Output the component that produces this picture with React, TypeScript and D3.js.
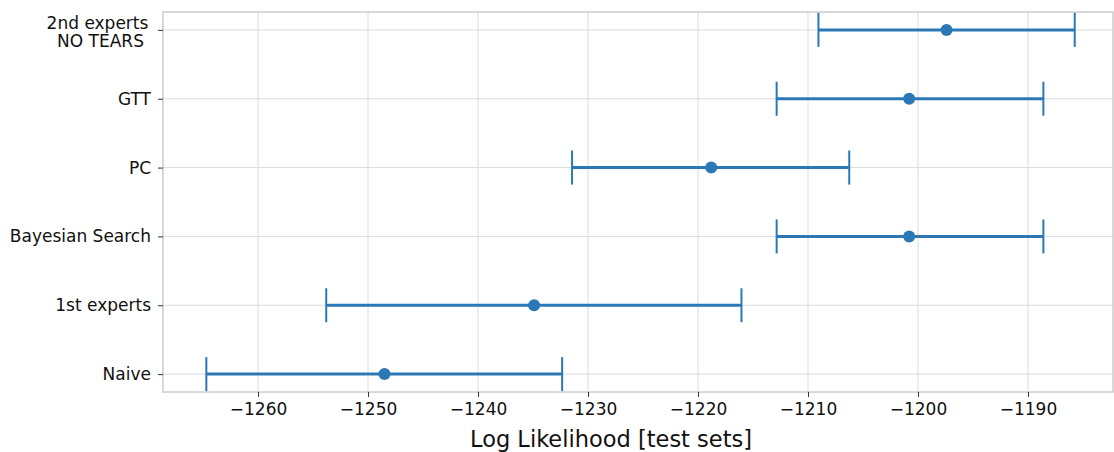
import { useEffect, useRef } from 'react';
import * as d3 from 'd3';

// Datos (de abajo hacia arriba)
const methods = ['Naive', '1st experts', 'Bayesian Search', 'PC', 'GTT', '2nd experts\nNO TEARS'];
const means = [-1248.5, -1234.9, -1200.8, -1218.8, -1200.8, -1197.4];
const lows = [-1264.7, -1253.8, -1212.85, -1231.45, -1212.85, -1209.05];
const highs = [-1232.35, -1216.05, -1188.6, -1206.25, -1188.6, -1185.75];
const xTicks = [-1260, -1250, -1240, -1230, -1220, -1210, -1200, -1190];

const W = 1114;
const H = 452;
const margin = { top: 12, right: 1, bottom: 60, left: 163 };
const BLUE = '#2a78b6';
const FONT = '"DejaVu Sans", sans-serif';

const App = () => {
  const svgRef = useRef<SVGSVGElement>(null);

  useEffect(() => {
    if (!svgRef.current) return;
    const svg = d3.select(svgRef.current);
    svg.selectAll('*').remove();

    const innerW = W - margin.left - margin.right;
    const innerH = H - margin.top - margin.bottom;

    const x = d3.scaleLinear().domain([-1268.64, -1182.27]).range([0, innerW]);
    const y = d3.scaleLinear().domain([-0.26, methods.length - 1 + 0.26]).range([innerH, 0]);

    const g = svg.append('g').attr('transform', `translate(${margin.left},${margin.top})`);

    // Rejilla
    g.selectAll('line.vgrid').data(xTicks).enter().append('line')
      .attr('x1', d => x(d)).attr('x2', d => x(d))
      .attr('y1', 0).attr('y2', innerH)
      .attr('stroke', '#dcdcdc').attr('stroke-width', 1);
    g.selectAll('line.hgrid').data(methods).enter().append('line')
      .attr('x1', 0).attr('x2', innerW)
      .attr('y1', (_, i) => y(i)).attr('y2', (_, i) => y(i))
      .attr('stroke', '#dcdcdc').attr('stroke-width', 1);

    // Marco
    g.append('rect').attr('x', 0).attr('y', 0).attr('width', innerW).attr('height', innerH)
      .attr('fill', 'none').attr('stroke', '#cccccc').attr('stroke-width', 1.5);

    // Eje X
    const xAxis = g.append('g').attr('transform', `translate(0,${innerH})`)
      .call(d3.axisBottom(x).tickValues(xTicks).tickSize(5).tickPadding(6)
        .tickFormat(d => `\u2212${Math.abs(+d)}`));
    xAxis.select('.domain').remove();
    xAxis.selectAll('line').attr('stroke', '#333').attr('stroke-width', 1);
    xAxis.selectAll('text').attr('font-family', FONT).attr('font-size', 17).attr('fill', '#111');

    // Eje Y
    const yAxis = g.append('g')
      .call(d3.axisLeft(y).tickValues(d3.range(methods.length)).tickSize(5).tickPadding(7)
        .tickFormat(() => ''));
    yAxis.select('.domain').remove();
    yAxis.selectAll('line').attr('stroke', '#333').attr('stroke-width', 1);

    methods.forEach((m, i) => {
      const lines = m.split('\n');
      const t = g.append('text')
        .attr('font-family', FONT).attr('font-size', 17).attr('fill', '#111');
      if (lines.length === 1) {
        t.attr('x', -12).attr('y', y(i)).attr('dy', '0.35em').attr('text-anchor', 'end').text(m);
      } else {
        t.attr('text-anchor', 'middle');
        lines.forEach((l, k) => {
          t.append('tspan').attr('x', -65.5 + k * 3).attr('y', y(i) - 1 + k * 18.5).text(l);
        });
      }
    });

    // Barras de error
    const capH = 17;
    methods.forEach((_, i) => {
      const cy = y(i);
      g.append('line').attr('x1', x(lows[i])).attr('x2', x(highs[i]))
        .attr('y1', cy).attr('y2', cy).attr('stroke', BLUE).attr('stroke-width', 3);
      [lows[i], highs[i]].forEach(v => {
        g.append('line').attr('x1', x(v)).attr('x2', x(v))
          .attr('y1', cy - capH).attr('y2', cy + capH)
          .attr('stroke', BLUE).attr('stroke-width', 2);
      });
      g.append('circle').attr('cx', x(means[i])).attr('cy', cy).attr('r', 6).attr('fill', BLUE);
    });

    // Título del eje X
    svg.append('text').attr('x', 611).attr('y', 447)
      .attr('text-anchor', 'middle').attr('font-family', FONT).attr('font-size', 22.5)
      .attr('fill', '#111').text('Log Likelihood [test sets]');
  }, []);

  return (
    <svg ref={svgRef} width={W} height={H}
      style={{ position: 'absolute', left: 0, top: 0, background: '#fff' }} />
  );
};

export default App;
